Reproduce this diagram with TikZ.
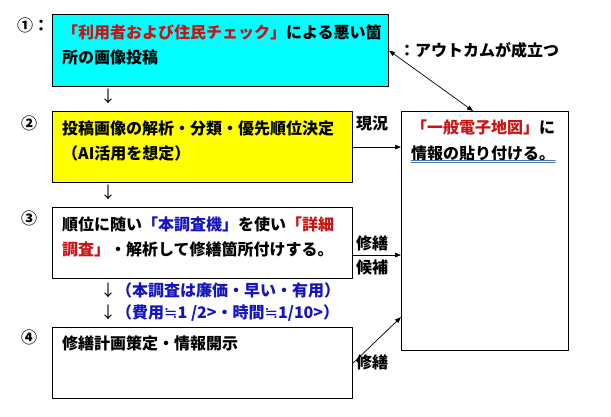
\documentclass[tikz,border=0pt]{standalone}
\usepackage{fontspec}
\setmainfont{Noto Sans CJK JP}
\newfontfamily\symfont{DejaVu Sans}
\usetikzlibrary{arrows.meta}
\definecolor{boxcyan}{RGB}{0,255,255}
\definecolor{boxyellow}{RGB}{255,255,0}
\definecolor{txtred}{RGB}{200,20,20}
\definecolor{txtblue}{RGB}{20,20,190}
\definecolor{ulblue}{RGB}{80,120,170}
\newcommand{\approxim}{{\symfont\mdseries ≒}}
\newcommand{\dnarrow}{{\mdseries ↓}}
\begin{document}
\begin{tikzpicture}[x=1pt,y=-1pt,>={Triangle[length=6pt,width=4.5pt]}, font=\bfseries\fontsize{16}{25}\selectfont, line join=round, line cap=round]
	\tikzset{box/.style={draw, line width=1.1pt, anchor=north west, inner sep=0pt},
		txt/.style={anchor=base west, inner sep=0pt, align=left},
		conn/.style={line width=0.7pt}}
	\def \bw{300pt}\def \bh{71pt}
	\useasboundingbox (0,0) rectangle (611,416);
	% boxes
	\node[box, fill=boxcyan, minimum width=336pt, minimum height=72pt] (b1) at (52,14) {};
	\node[box, fill=boxyellow, minimum width=\bw, minimum height=\bh] (b2) at (52,111) {};
	\node[box, minimum width=\bw, minimum height=\bh] (b3) at (52,207) {};
	\node[box, minimum width=\bw, minimum height=\bh] (b4) at (52,327) {};
	\node[box, minimum width=167pt, minimum height=239pt] (map) at (401,111) {};
	% texts in boxes (base = last line)
	\node[txt] (t1) at ([shift={(10,49)}]b1.north west) {\textcolor{txtred}{「利用者および住民チェック」}による悪い箇\\所の画像投稿};
	\node[txt] (t2) at ([shift={(10,48)}]b2.north west) {投稿画像の解析・分類・優先順位決定\\（AI活用を想定）};
	\node[txt] (t3) at ([shift={(10,48)}]b3.north west) {順位に随い\textcolor{txtblue}{「本調査機」}を使い\textcolor{txtred}{「詳細}\\\textcolor{txtred}{調査」}・解析して修繕箇所付けする。};
	\node[txt] (t4) at ([shift={(10,22)}]b4.north west) {修繕計画策定・情報開示};
	\node[txt] (m1) at ([shift={(10,22)}]map.north west) {\textcolor{txtred}{「一般電子地図」}に};
	\node[txt] (m2) at ([shift={(0,26)}]m1.base west) {情報の貼り付ける。};
	\draw[ulblue, line width=0.6pt] ([shift={(0,1)}]m2.base west) -- ([shift={(0,1)}]m2.base east);
	\draw[ulblue, line width=0.6pt] ([shift={(0,3.5)}]m2.base west) -- ([shift={(0,3.5)}]m2.base east);
	% numbers
	\node[txt] (n1) at (17,31) {①：};
	\node[anchor=base, inner sep=0pt] (n2) at (29,129) {②};
	\node[anchor=base, inner sep=0pt] (n3) at (29,224) {③};
	\node[anchor=base, inner sep=0pt] (n4) at (29,343) {④};
	% down arrows and notes
	\node[anchor=base, inner sep=0pt] (d1) at (108,102) {\dnarrow};
	\node[anchor=base, inner sep=0pt] (d2) at (108,198) {\dnarrow};
	\node[txt] (s1) at (100,296) {\dnarrow\textcolor{txtblue}{（本調査は廉価・早い・有用）}};
	\node[txt] (s2) at (100,318) {\dnarrow\textcolor{txtblue}{（費用\approxim 1 /2>・時間\approxim 1/10>）}};
	% connectors
	\draw[conn, <->] (b1.east) -- ([shift={(-12,0)}]map.north) ;
	\node[txt] (lo) at (399,56) {：アウトカムが成立つ};
	\draw[conn, ->] (b2.east) -- (b2.east -| map.west);
	\node[txt] (l2) at (356,129) {現況};
	\draw[conn, ->] ([shift={(0,12)}]b3.east) -- ([shift={(0,12)}]b3.east -| map.west);
	\node[txt] (l3a) at (356,249) {修繕};
	\node[txt] (l3b) at (356,273) {候補};
	\draw[conn, ->] (b4.east) -- ([shift={(0,-34)}]map.south west);
	\node[txt] (l4) at (356,368) {修繕};
\end{tikzpicture}
\end{document}
